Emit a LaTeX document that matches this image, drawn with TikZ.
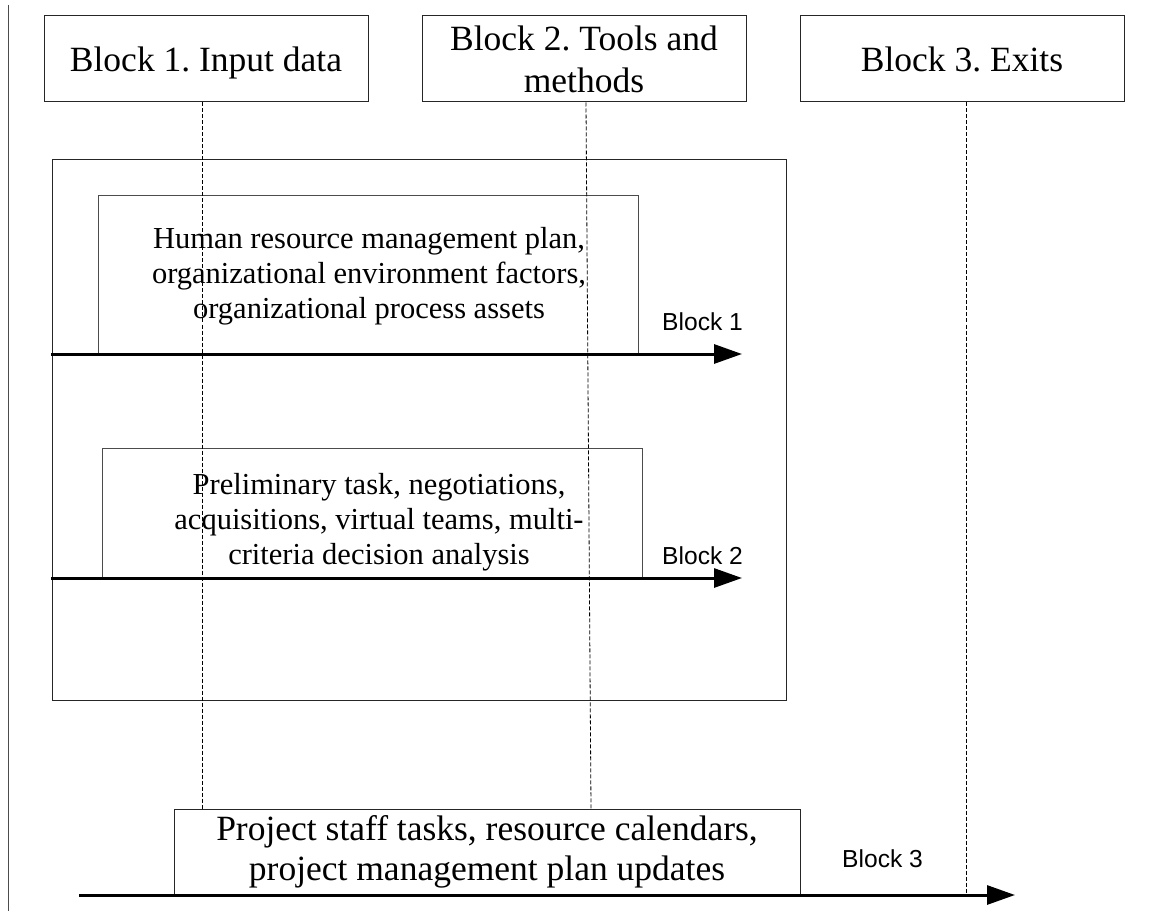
\documentclass[tikz,border=0pt]{standalone}
\usepackage{fontspec}
\setmainfont{Liberation Serif}
\newfontfamily\arialf{Liberation Sans}
\usetikzlibrary{arrows.meta}
\frenchspacing
\begin{document}
\begin{tikzpicture}[x=1pt,y=-1pt,
  hdr/.style={draw=black!85,line width=1pt,minimum width=324pt,minimum height=86pt,inner sep=0pt,align=center,font=\fontsize{35.5}{42}\selectfont},
  framebox/.style={draw=black!85,line width=1pt,minimum width=734pt,minimum height=540pt,inner sep=0pt},
  ibox/.style={draw=black!70,line width=1pt,minimum width=540pt,inner sep=0pt},
  itxt/.style={inner sep=0pt,align=center,font=\fontsize{30.5}{35}\selectfont},
  obox/.style={draw=black!85,line width=1pt,minimum width=626pt,minimum height=86pt,inner sep=0pt,align=center,font=\fontsize{35.5}{40}\selectfont},
  flow/.style={line width=3pt,-{Triangle[length=28pt,width=19pt]}},
  lbl/.style={inner sep=0pt,anchor=base west,font=\arialf\fontsize{24.6}{28}\selectfont},
  guide/.style={line width=0.8pt,dash pattern=on 4pt off 2pt},
  rule/.style={draw=black!70,line width=1pt}
]
\useasboundingbox (0,0) rectangle (1149,912);

% left rule
\coordinate (v1) at (8,5);
\coordinate (v2) at (8,911);
\draw[rule] (v1) -- (v2);

% header boxes
\node[hdr,text depth=0pt] (b1) at (206,59) {Block 1. Input data};
\node[hdr] (b2) at (584,59) {Block 2. Tools and\\methods};
\node[hdr] (b3) at (962,59) {Block 3. Exits};

% big frame
\node[framebox] (fr) at (419,430) {};

% inner boxes
\node[ibox,minimum height=158pt] (ib1) at (368,275) {};
\node[itxt] (t1) at (369,276) {Human resource management plan,\\organizational environment factors,\\organizational process assets};
\node[ibox,minimum height=130pt] (ib2) at (372,513) {};
\node[itxt] (t2) at (379,522) {Preliminary task, negotiations,\\acquisitions, virtual teams, multi-\\criteria decision analysis};

% output box
\node[obox] (out) at (487,852) {Project staff tasks, resource calendars,\\project management plan updates};

% arrows
\coordinate (a1s) at (51,354);
\coordinate (a1e) at (742,354);
\draw[flow] (a1s) -- (a1e);
\node[lbl] (l1) at (662,330) {Block 1};

\coordinate (a2s) at (51,578);
\coordinate (a2e) at (742,578);
\draw[flow] (a2s) -- (a2e);
\node[lbl] (l2) at (662,564) {Block 2};

\coordinate (a3s) at (79,895);
\coordinate (a3e) at (1015,895);
\draw[flow] (a3s) -- (a3e);
\node[lbl] (l3) at (842,867) {Block 3};

% dashed guides
\draw[guide] ([xshift=-4pt]b1.south) -- ([xshift=-285pt]out.north);
\draw[guide] ([xshift=2pt]b2.south) -- ([xshift=104pt]out.north);
\coordinate (d3b) at (966,895);
\draw[guide] ([xshift=4pt]b3.south) -- (d3b);
\end{tikzpicture}
\end{document}
